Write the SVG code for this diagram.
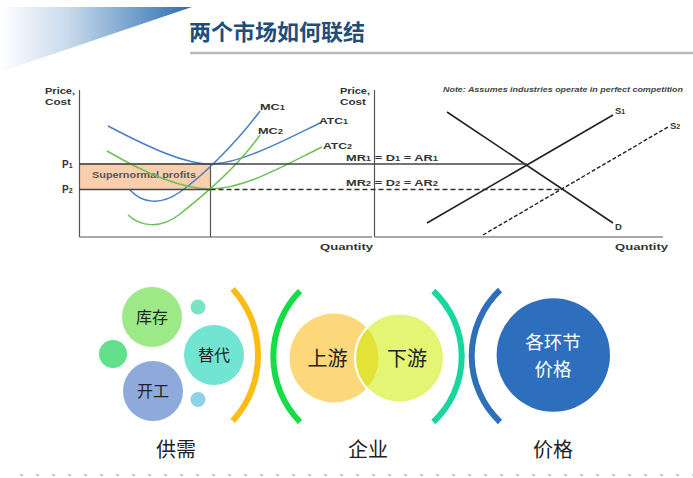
<svg xmlns="http://www.w3.org/2000/svg" width="693" height="478" viewBox="0 0 693 478">
<defs>
<linearGradient id="tri" x1="0" y1="0" x2="1" y2="0">
<stop offset="0" stop-color="#ffffff"/>
<stop offset="0.35" stop-color="#c9dbec"/>
<stop offset="1" stop-color="#2a6db0"/>
</linearGradient>
<style>
.ax{stroke:#555;stroke-width:1.2;fill:none}
.lb{font-family:"Liberation Sans",Arial,sans-serif;font-weight:bold;font-size:9.5px;fill:#333}
.sm{font-size:7px}
.blue{stroke:#4a7fc4;stroke-width:1.5;fill:none}
.green{stroke:#6fbf58;stroke-width:1.5;fill:none}
.blk{stroke:#222;stroke-width:1.6;fill:none}
.cj{font-family:"Noto Sans CJK SC","Noto Sans",sans-serif;fill:#222}
.arc{fill:none;stroke-width:6}
</style>
</defs>
<rect width="693" height="478" fill="#ffffff"/>
<polygon points="0,7 192,7 0,72" fill="url(#tri)"/>
<text x="189" y="40" class="cj" font-size="22" font-weight="bold" style="fill:#1f4e79">两个市场如何联结</text>
<line x1="190" y1="53" x2="693" y2="53" stroke="#b8b8b4" stroke-width="2.5"/>

<g id="chart-left">
<rect x="79.5" y="164" width="131" height="25.5" fill="#fbcfae" stroke="#8a7a70" stroke-width="1"/>
<text x="92" y="178" class="lb" style="font-size:9px;fill:#555" textLength="104" lengthAdjust="spacingAndGlyphs">Supernormal  profits</text>
<line class="ax" x1="79.5" y1="90" x2="79.5" y2="237"/>
<line class="ax" x1="79.5" y1="237" x2="372" y2="237"/>
<line class="ax" x1="210.5" y1="164" x2="210.5" y2="237"/>
<path class="blue" d="M130,190 C142,203 160,206 180,192 C200,178 235,145 260,111"/>
<path class="blue" d="M108,126 C150,148 185,164 210,164 C240,164 285,140 320,123"/>
<path class="green" d="M128,215 C140,226 160,230 180,214 C200,198 235,170 260,135"/>
<path class="green" d="M107,151 C150,176 185,189 210,189 C245,189 285,165 322,147"/>
<text x="45" y="94" class="lb" style="font-size:8.5px" textLength="30" lengthAdjust="spacingAndGlyphs">Price,</text>
<text x="45" y="105" class="lb" style="font-size:8.5px" textLength="26" lengthAdjust="spacingAndGlyphs">Cost</text>
<text x="62" y="168" class="lb" style="font-size:10px">P<tspan class="sm">1</tspan></text>
<text x="62" y="193" class="lb" style="font-size:10px">P<tspan class="sm">2</tspan></text>
<text x="260" y="110" class="lb" textLength="25" lengthAdjust="spacingAndGlyphs">MC<tspan class="sm">1</tspan></text>
<text x="258" y="134" class="lb" textLength="25" lengthAdjust="spacingAndGlyphs">MC<tspan class="sm">2</tspan></text>
<text x="319" y="124" class="lb" textLength="29" lengthAdjust="spacingAndGlyphs">ATC<tspan class="sm">1</tspan></text>
<text x="323" y="149" class="lb" textLength="29" lengthAdjust="spacingAndGlyphs">ATC<tspan class="sm">2</tspan></text>
<text x="320" y="250" class="lb" textLength="53" lengthAdjust="spacingAndGlyphs">Quantity</text>
</g>

<g id="chart-right">
<line class="ax" x1="374.5" y1="90" x2="374.5" y2="237"/>
<line class="ax" x1="374.5" y1="237" x2="663" y2="237"/>
<line class="blk" x1="447" y1="112" x2="613" y2="223"/>
<line class="blk" x1="427" y1="223" x2="613" y2="115"/>
<line class="blk" x1="483" y1="235" x2="668" y2="127" stroke-dasharray="4,2" style="stroke-width:1.4"/>
<text x="340" y="94" class="lb" style="font-size:8.5px" textLength="30" lengthAdjust="spacingAndGlyphs">Price,</text>
<text x="340" y="105" class="lb" style="font-size:8.5px" textLength="26" lengthAdjust="spacingAndGlyphs">Cost</text>
<text x="443" y="92" class="lb" style="font-style:italic;font-size:7px;fill:#444" textLength="240" lengthAdjust="spacingAndGlyphs">Note: Assumes industries operate in perfect competition</text>
<text x="615" y="114" class="lb">S<tspan class="sm">1</tspan></text>
<text x="670" y="129" class="lb">S<tspan class="sm">2</tspan></text>
<text x="615" y="230" class="lb">D</text>
<text x="615" y="250" class="lb" textLength="53" lengthAdjust="spacingAndGlyphs">Quantity</text>
<text x="346" y="161" class="lb" textLength="92" lengthAdjust="spacingAndGlyphs">MR<tspan class="sm">1</tspan> = D<tspan class="sm">1</tspan> = AR<tspan class="sm">1</tspan></text>
<text x="346" y="186" class="lb" textLength="92" lengthAdjust="spacingAndGlyphs">MR<tspan class="sm">2</tspan> = D<tspan class="sm">2</tspan> = AR<tspan class="sm">2</tspan></text>
</g>

<g id="connectors">
<line x1="79.5" y1="164" x2="527" y2="164" stroke="#444" stroke-width="1.3"/>
<line x1="79.5" y1="189.5" x2="210.5" y2="189.5" stroke="#444" stroke-width="1.3"/>
<line x1="210.5" y1="189.5" x2="563" y2="189.5" stroke="#333" stroke-width="1.4" stroke-dasharray="5,3"/>
</g>

<g id="supply-demand">
<circle cx="152" cy="317" r="30" fill="#9de887"/>
<circle cx="113" cy="354" r="14" fill="#62e08c"/>
<circle cx="153" cy="391" r="30" fill="#8eaadb"/>
<circle cx="214" cy="355" r="30" fill="#72e4d2"/>
<circle cx="198" cy="307" r="7.5" fill="#7ce2c4"/>
<circle cx="198" cy="399.5" r="7.5" fill="#8dd2e8"/>
<text x="152" y="323" class="cj" font-size="16" text-anchor="middle">库存</text>
<text x="214" y="361" class="cj" font-size="16" text-anchor="middle">替代</text>
<text x="153" y="397" class="cj" font-size="16" text-anchor="middle">开工</text>
<path class="arc" stroke="#fbbd14" d="M232.7,289 A98.7,98.7 0 0 1 232.7,421"/>
<text x="176" y="457" class="cj" font-size="20" text-anchor="middle">供需</text>
</g>

<g id="enterprise">
<path class="arc" stroke="#16dc48" d="M300,291 A93.7,93.7 0 0 0 300,422"/>
<circle cx="334" cy="358" r="44.5" fill="#fdd87a"/>
<circle cx="399.5" cy="358" r="44.5" fill="#ceed00" fill-opacity="0.55" stroke="#ffffff" stroke-width="2"/>
<text x="327.5" y="366" class="cj" font-size="20" text-anchor="middle">上游</text>
<text x="407" y="366" class="cj" font-size="20" text-anchor="middle">下游</text>
<path class="arc" stroke="#17d6a0" d="M433.3,291 A89.7,89.7 0 0 1 433.3,422"/>
<text x="368" y="457" class="cj" font-size="20" text-anchor="middle">企业</text>
</g>

<g id="price">
<path class="arc" stroke="#2f6fba" d="M500,290 A91.1,91.1 0 0 0 500,422"/>
<circle cx="553.3" cy="355" r="56.7" fill="#2e6fbd"/>
<text x="553" y="349" class="cj" font-size="18.5" text-anchor="middle" style="fill:#ffffff">各环节</text>
<text x="553" y="376" class="cj" font-size="18.5" text-anchor="middle" style="fill:#ffffff">价格</text>
<text x="553" y="457" class="cj" font-size="20" text-anchor="middle">价格</text>
</g>

<line x1="20" y1="475" x2="693" y2="475" stroke="#c8c8c8" stroke-width="2" stroke-dasharray="3,13"/>
</svg>
